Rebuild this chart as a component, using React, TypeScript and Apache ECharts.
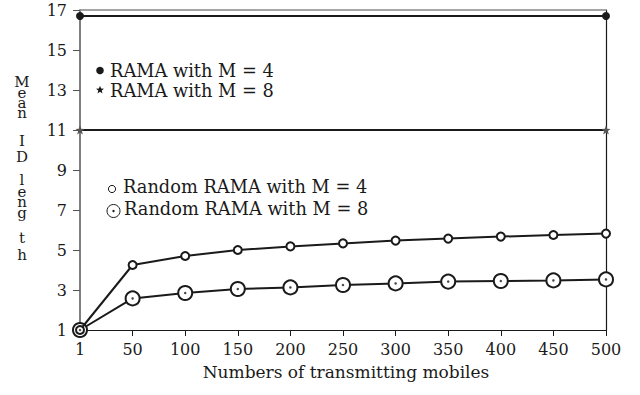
import React, { useEffect, useRef } from "react";
import * as echarts from "echarts";

const categories = ["1", "50", "100", "150", "200", "250", "300", "350", "400", "450", "500"];
const ramaM4 = [16.7, null, null, null, null, null, null, null, null, null, 16.7];
const ramaM8 = [11, null, null, null, null, null, null, null, null, null, 11];
const randomM4 = [1, 4.25, 4.7, 5.0, 5.18, 5.33, 5.47, 5.57, 5.67, 5.75, 5.82];
const randomM8 = [1, 2.58, 2.85, 3.05, 3.13, 3.25, 3.33, 3.42, 3.45, 3.48, 3.53];
const yTitleLetters = ["M", "e", "a", "n", "I", "D", "l", "e", "n", "g", "t", "h"];
const yTitleCentres = [81.5, 93, 103, 113, 141, 156.5, 180, 191.5, 202, 213, 238, 254.5];
const legendTop = ["RAMA with M = 4", "RAMA with M = 8"];
const legendBottom = ["Random RAMA with M = 4", "Random RAMA with M = 8"];
const xTitle = "Numbers of transmitting mobiles";

const FONT = "DejaVu Serif";
const INK = "#1a1a1a";
const STAR_D =
  "M0,-10L2.6,-3.4L9.51,-3.09L4.1,1.3L5.88,8.09L0,4.2L-5.88,8.09L-4.1,1.3L-9.51,-3.09L-2.6,-3.4Z";

echarts.graphic.registerShape("star5", echarts.graphic.extendPath(STAR_D, {}));

export default function App() {
  const ref = useRef<HTMLDivElement>(null);
  useEffect(() => {
    if (!ref.current) return;
    const chart = echarts.init(ref.current, null, { renderer: "svg" });
    const textEl = (text: string, x: number, y: number, size = 16, align = "left") => ({
      type: "text",
      x,
      y,
      silent: true,
      style: {
        text,
        fill: INK,
        font: `${size}px "${FONT}"`,
        align,
        verticalAlign: "middle",
      },
    });
    const graphics: any[] = [];
    yTitleLetters.forEach((ch, i) => {
      graphics.push(textEl(ch, 22, yTitleCentres[i], 15, "center"));
    });
    // top legend
    graphics.push({ type: "circle", shape: { cx: 100, cy: 70.5, r: 3.8 }, style: { fill: INK } });
    graphics.push({
      type: "star5",
      x: 100,
      y: 90,
      scaleX: 0.42,
      scaleY: 0.42,
      style: { fill: INK },
    });
    graphics.push(textEl(legendTop[0], 110, 70.5, 17.8));
    graphics.push(textEl(legendTop[1], 110, 90.5, 17.8));
    // bottom legend
    graphics.push({
      type: "circle",
      shape: { cx: 112, cy: 189, r: 3.6 },
      style: { fill: "#fff", stroke: INK, lineWidth: 1 },
    });
    graphics.push({
      type: "circle",
      shape: { cx: 113.5, cy: 211, r: 6.5 },
      style: { fill: "#fff", stroke: INK, lineWidth: 1 },
    });
    graphics.push({ type: "circle", shape: { cx: 113.5, cy: 211, r: 1.2 }, style: { fill: INK } });
    graphics.push(textEl(legendBottom[0], 123, 186.5, 17.8));
    graphics.push(textEl(legendBottom[1], 124, 208.5, 17.8));
    graphics.push(textEl(xTitle, 346, 371.5, 17, "center"));

    const axisLabel = { fontFamily: FONT, fontSize: 16, color: INK };
    chart.setOption({
      animation: false,
      backgroundColor: "#fff",
      grid: { left: 80, right: 34, top: 10, bottom: 65 },
      xAxis: [
        {
          type: "category",
          data: categories,
          boundaryGap: false,
          axisLine: { lineStyle: { color: INK, width: 1.2 } },
          axisTick: { show: true, inside: false, length: 6, lineStyle: { color: INK } },
          axisLabel: { ...axisLabel, margin: 11 },
          splitLine: { show: false },
        },
        {
          type: "category",
          data: categories,
          boundaryGap: false,
          position: "top",
          axisLine: { lineStyle: { color: "#888", width: 1.5 } },
          axisTick: { show: false },
          axisLabel: { show: false },
          splitLine: { show: false },
        },
      ],
      yAxis: [
        {
          type: "value",
          min: 1,
          max: 17,
          interval: 2,
          axisLine: { show: true, lineStyle: { color: "#555", width: 1.5 } },
          axisTick: { show: true, inside: false, length: 7, lineStyle: { color: "#555" } },
          axisLabel: { ...axisLabel, margin: 13 },
          splitLine: { show: false },
        },
        {
          type: "value",
          min: 1,
          max: 17,
          interval: 2,
          position: "right",
          axisLine: { show: true, lineStyle: { color: INK, width: 1.2 } },
          axisTick: { show: false },
          axisLabel: { show: false },
          splitLine: { show: false },
        },
      ],
      series: [
        {
          name: "RAMA with M = 4",
          type: "line",
          data: ramaM4,
          connectNulls: true,
          symbol: "circle",
          symbolSize: 8,
          lineStyle: { color: INK, width: 2 },
          itemStyle: { color: INK },
          z: 3,
        },
        {
          name: "RAMA with M = 8",
          type: "line",
          data: ramaM8,
          connectNulls: true,
          symbol: "path://" + STAR_D,
          symbolSize: 9,
          lineStyle: { color: INK, width: 2 },
          itemStyle: { color: "#555" },
          z: 3,
        },
        {
          name: "Random RAMA with M = 4",
          type: "line",
          data: randomM4,
          symbol: "emptyCircle",
          symbolSize: 8,
          lineStyle: { color: INK, width: 2 },
          itemStyle: { color: INK, borderWidth: 1 },
          z: 3,
        },
        {
          name: "Random RAMA with M = 8",
          type: "line",
          data: randomM8,
          symbol: "emptyCircle",
          symbolSize: 14,
          lineStyle: { color: INK, width: 2 },
          itemStyle: { color: INK, borderWidth: 1 },
          z: 2,
        },
        {
          name: "Random RAMA with M = 8 centre",
          type: "scatter",
          data: randomM8,
          symbol: "circle",
          symbolSize: 2.5,
          itemStyle: { color: INK },
          z: 4,
        },
      ],
      graphic: graphics,
    });
    return () => chart.dispose();
  }, []);
  return <div ref={ref} style={{ width: 640, height: 395, position: "absolute", left: 0, top: 0 }} />;
}
